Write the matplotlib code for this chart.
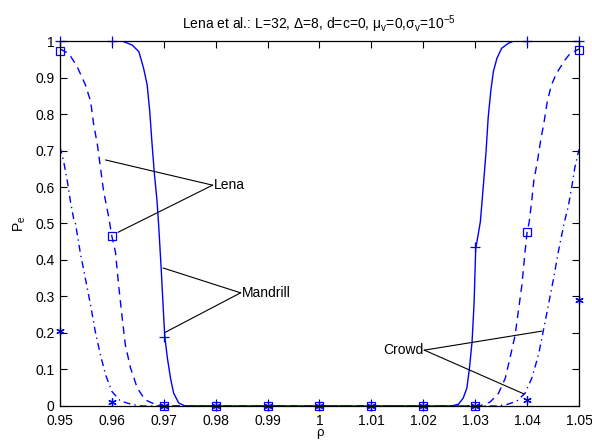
import numpy as np
import matplotlib
matplotlib.use("Agg")
import matplotlib.pyplot as plt
from matplotlib.ticker import FormatStrFormatter

plt.rcParams['font.family'] = ['Liberation Sans', 'DejaVu Sans']
plt.rcParams['mathtext.fontset'] = 'custom'
plt.rcParams['mathtext.rm'] = 'Liberation Sans'
plt.rcParams['mathtext.it'] = 'Liberation Sans:italic'

# theoretical curves, left flank and right flank
solid_left_x = [0.950, 0.9620, 0.9639, 0.9652, 0.9661, 0.9668, 0.9673, 0.9677, 0.9682,
                0.9687, 0.9690, 0.9695, 0.9700, 0.9702, 0.9707, 0.9713, 0.9719, 0.9729, 0.9741]
solid_left_y = [1.0, 1.0, 0.989, 0.971, 0.926, 0.880, 0.807, 0.726, 0.635,
                0.562, 0.499, 0.376, 0.240, 0.190, 0.131, 0.076, 0.035, 0.008, 0.0]
solid_right_x = [1.0255, 1.0268, 1.0277, 1.0284, 1.0289, 1.0294, 1.0298, 1.0301, 1.0310,
                 1.0316, 1.0321, 1.0325, 1.0330, 1.0335, 1.0342, 1.0351, 1.0364, 1.0375, 1.050]
solid_right_y = [0.0, 0.005, 0.022, 0.049, 0.104, 0.176, 0.285, 0.430, 0.505,
                 0.608, 0.698, 0.789, 0.862, 0.916, 0.953, 0.980, 0.994, 1.0, 1.0]

dashed_left_x = [0.9500, 0.9517, 0.9533, 0.9549, 0.9559, 0.9565, 0.9572, 0.9578, 0.9584, 0.9594,
                 0.9600, 0.9607, 0.9613, 0.9620, 0.9626, 0.9636, 0.9649, 0.9664, 0.9684, 0.9703]
dashed_left_y = [0.978, 0.966, 0.930, 0.880, 0.835, 0.771, 0.717, 0.653, 0.589, 0.517,
                 0.465, 0.421, 0.331, 0.240, 0.167, 0.104, 0.049, 0.017, 0.004, 0.0]
dashed_right_x = [1.0309, 1.0329, 1.0345, 1.0358, 1.0367, 1.0377, 1.0383, 1.0390, 1.0396, 1.0400, 1.0404,
                  1.0409, 1.0413, 1.0420, 1.0426, 1.0433, 1.0439, 1.0447, 1.0457, 1.0473, 1.0483, 1.0500]
dashed_right_y = [0.0, 0.011, 0.035, 0.076, 0.131, 0.194, 0.258, 0.331, 0.421, 0.476, 0.503,
                  0.562, 0.617, 0.671, 0.726, 0.780, 0.835, 0.880, 0.912, 0.948, 0.966, 0.978]

dashdot_left_x = [0.9500, 0.9507, 0.9514, 0.9520, 0.9527, 0.9530, 0.9539, 0.9549,
                  0.9559, 0.9568, 0.9578, 0.9588, 0.9600, 0.9616, 0.9639, 0.9658]
dashdot_left_y = [0.710, 0.671, 0.617, 0.562, 0.508, 0.499, 0.421, 0.349,
                  0.276, 0.204, 0.140, 0.085, 0.040, 0.014, 0.004, 0.0]
dashdot_right_x = [1.0342, 1.0361, 1.0380, 1.0396, 1.0409, 1.0422, 1.0431, 1.0441,
                   1.0451, 1.0460, 1.0472, 1.0479, 1.0486, 1.0492, 1.0500]
dashdot_right_y = [0.0, 0.004, 0.013, 0.035, 0.076, 0.140, 0.204, 0.276,
                   0.349, 0.421, 0.505, 0.544, 0.599, 0.653, 0.703]

# simulated points
rho = [0.95, 0.96, 0.97, 0.98, 0.99, 1.00, 1.01, 1.02, 1.03, 1.04, 1.05]
pe_plus = [1.0, 1.0, 0.19, 0, 0, 0, 0, 0, 0.436, 1.0, 1.0]
pe_square = [0.972, 0.465, 0, 0, 0, 0, 0, 0, 0, 0.476, 0.975]
pe_star = [0.205, 0.011, 0, 0, 0, 0, 0, 0, 0, 0.016, 0.29]

# labels: (text, anchor, line targets, alignment)
labels = [
    ("Lena", (0.9794, 0.605), [(0.9588, 0.674), (0.9612, 0.476)], 'left'),
    ("Mandrill", (0.9848, 0.310), [(0.9699, 0.378), (0.9703, 0.202)], 'left'),
    ("Crowd", (1.0202, 0.153), [(1.0428, 0.205), (1.0394, 0.033)], 'right'),
]

fig = plt.figure(figsize=(5.92, 4.41), dpi=100)
ax = fig.add_axes([0.1013, 0.0794, 0.8767, 0.8276])

blue = (0, 0, 1)
ax.plot(solid_left_x + solid_right_x, solid_left_y + solid_right_y, '-', color=blue, lw=1.0)
ax.plot(dashed_left_x + dashed_right_x, dashed_left_y + dashed_right_y, color=blue, lw=1.0,
        dashes=(5.5, 4))
ax.plot(dashdot_left_x + dashdot_right_x, dashdot_left_y + dashdot_right_y, color=blue, lw=1.0,
        dashes=(5, 3, 1, 3))

ax.plot(rho, pe_plus, '+', color=blue, ms=7, mew=0.9, ls='none', clip_on=False)
ax.plot(rho, pe_square, 's', color=blue, mfc='none', ms=6, mew=0.9, ls='none', clip_on=False)
ax.plot(rho, pe_star, marker=(6, 2, 0), color=blue, ms=6, mew=0.9, ls='none', clip_on=False)

for text, tip, targets, ha in labels:
    for tx, ty in targets:
        ax.plot([tip[0], tx], [tip[1], ty], '-', color='black', lw=0.8)
    off = 0.0002 if ha == 'left' else -0.0002
    ax.text(tip[0] + off, tip[1], text, ha=ha, va='center', fontsize=10)

ax.set_xlim(0.95, 1.05)
ax.set_ylim(0, 1)
ax.set_xticks(rho)
ax.set_yticks(np.arange(0, 1.01, 0.1))
ax.xaxis.set_major_formatter(FormatStrFormatter('%g'))
ax.yaxis.set_major_formatter(FormatStrFormatter('%g'))
ax.tick_params(direction='in', length=5, width=0.8, top=True, right=True, labelsize=10)
ax.tick_params(axis='x', pad=5.5)
ax.tick_params(axis='y', pad=4)
for s in ax.spines.values():
    s.set_linewidth(0.9)

ax.set_xlabel('ρ', fontsize=9.5, labelpad=-0.5)
ax.set_ylabel(r'P$_\mathrm{e}$', fontsize=10, labelpad=5)
ax.set_title(r'Lena et al.: L=32, Δ=8, d=c=0, μ$_\mathrm{v}$=0,σ$_\mathrm{v}$=10$^{-5}$',
             fontsize=10, pad=9)

fig.savefig('out.png', dpi=100)
